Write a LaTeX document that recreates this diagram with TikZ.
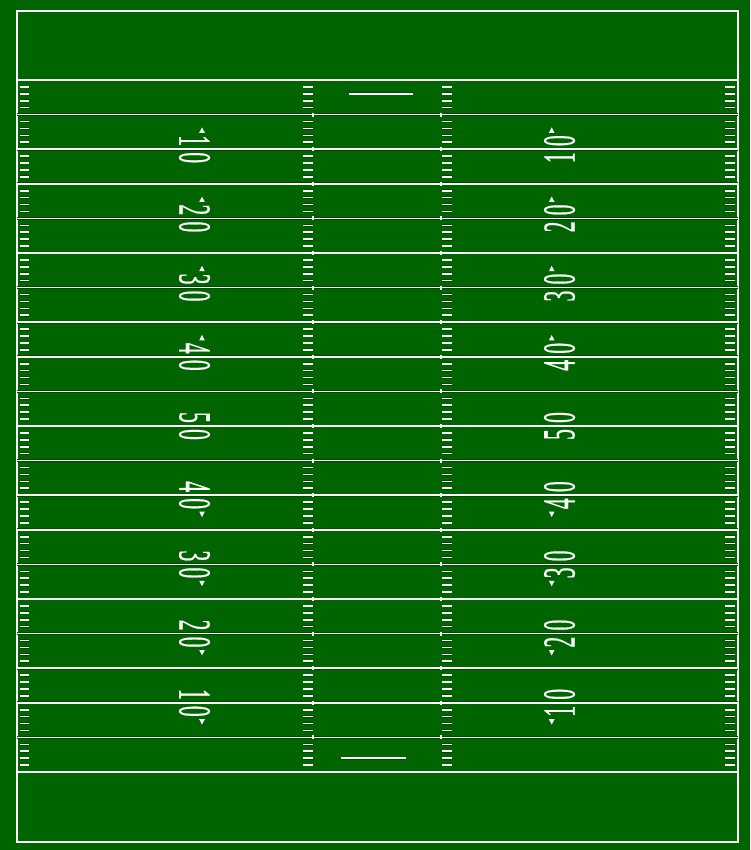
\documentclass[tikz,border=0pt]{standalone}
\usepackage{fontspec}
\setmainfont{Liberation Serif}
\newfontfamily\yardfont{Liberation Serif}[FakeBold=0.8]
\usepackage{graphicx}
\usepackage{tikz}
\definecolor{fieldgreen}{RGB}{0,100,0}
\definecolor{fielddark}{RGB}{0,72,0}

% 场地数字（窄长字形）
\newcommand{\yardnum}[1]{\scalebox{0.47}[1]{#1}}

\tikzset{
  chalk/.style={draw=white,line width=1.5pt,preaction={draw=fielddark,line width=2.9pt}},
  hash/.style={draw=white,line width=1.6pt,preaction={draw=fielddark,line width=2.8pt}},
  crossmark/.style={draw=white,line width=2pt},
  digit/.style={inner sep=0pt,text=white,font=\yardfont\fontsize{46}{46}\selectfont},
}

\begin{document}
\begin{tikzpicture}[x=1pt,y=-1pt]
    % 场地参数（像素坐标，y 向下）
    \def\gy{80}       % 上方球门线
    \def\yd{6.92}     % 每码长度
    \def\xl{17}       % 左边线
    \def\xr{738}      % 右边线

    % 背景草地
    \fill[fieldgreen] (0,0) rectangle (750,850);
    \useasboundingbox (0,0) rectangle (750,850);

    % 外框（含两端端区）
    \draw[chalk,line width=2pt] (\xl,11) rectangle (\xr,842);

    % 每五码一条码线
    \foreach \k in {0,...,20}
        \draw[chalk] (\xl,{\gy+5*\k*\yd}) -- (\xr,{\gy+5*\k*\yd});

    % 每码刻度：边线旁与中间两列
    \foreach \k in {0,...,19}
        \foreach \j in {1,...,4}{
            \pgfmathsetmacro\yy{\gy+(5*\k+\j)*\yd}
            \draw[hash] (20,\yy) -- (29,\yy);
            \draw[hash] (303,\yy) -- (313,\yy);
            \draw[hash] (442,\yy) -- (452,\yy);
            \draw[hash] (725,\yy) -- (735,\yy);
        }

    % 码线上的内侧短竖标
    \foreach \k in {1,...,19}{
        \pgfmathsetmacro\yy{\gy+5*\k*\yd}
        \draw[crossmark] (313.3,\yy-2) -- (313.3,\yy+2);
        \draw[crossmark] (441.3,\yy-2) -- (441.3,\yy+2);
    }

    % 两码线
    \draw[chalk] (349,{\gy+2*\yd}) -- (413,{\gy+2*\yd});
    \draw[chalk] (341,{\gy+98*\yd}) -- (406,{\gy+98*\yd});

    % 场地数字（左列顺时针、右列逆时针）
    \foreach \k/\a/\b in {2/1/0,4/2/0,6/3/0,8/4/0,10/5/0,12/4/0,14/3/0,16/2/0,18/1/0}{
        \pgfmathsetmacro\yy{\gy+5*\k*\yd}
        \node[digit,rotate=-90] (L\k-1) at (194.5,\yy-8.5) {\yardnum{\a}};
        \node[digit,rotate=-90] (L\k-2) at (194.5,\yy+8.5) {\yardnum{\b}};
        \node[digit,rotate=90] (R\k-2) at (559.5,\yy-8.5) {\yardnum{\b}};
        \node[digit,rotate=90] (R\k-1) at (559.5,\yy+8.5) {\yardnum{\a}};
    }

    % 方向三角：上半场指上，下半场指下
    \foreach \k in {2,4,6,8}{
        \pgfmathsetmacro\yy{\gy+5*\k*\yd-19}
        \fill[white,shift={(202,\yy)}] (-2.8,2.6) -- (2.8,2.6) -- (0,-2.8) -- cycle;
        \fill[white,shift={(551.7,\yy)}] (-2.8,2.6) -- (2.8,2.6) -- (0,-2.8) -- cycle;
    }
    \foreach \k in {12,14,16,18}{
        \pgfmathsetmacro\yy{\gy+5*\k*\yd+19}
        \fill[white,shift={(202,\yy)}] (-2.8,-2.6) -- (2.8,-2.6) -- (0,2.8) -- cycle;
        \fill[white,shift={(551.7,\yy)}] (-2.8,-2.6) -- (2.8,-2.6) -- (0,2.8) -- cycle;
    }
\end{tikzpicture}
\end{document}
